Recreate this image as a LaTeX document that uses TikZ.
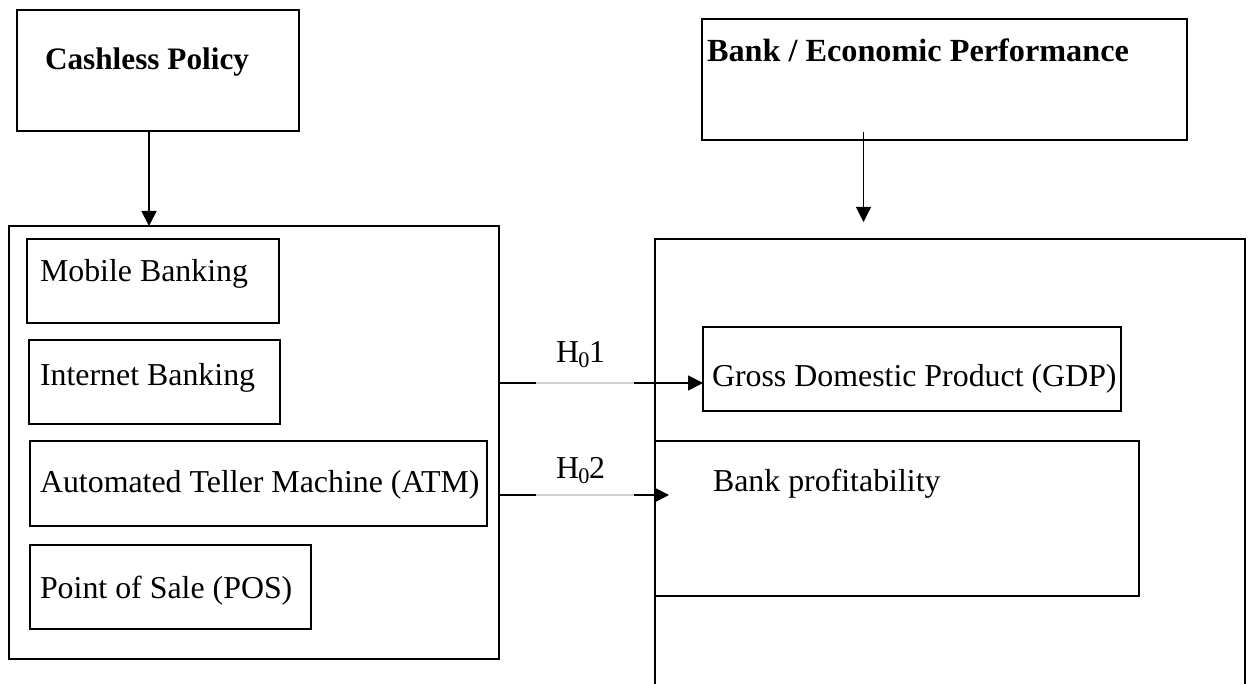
\documentclass[tikz,border=0pt]{standalone}
\usepackage{fontspec}
\setmainfont{Liberation Serif}
\usetikzlibrary{arrows.meta}

\tikzset{
  frame/.style 2 args={draw, line width=0.75pt, inner sep=0pt, outer sep=0pt,
    anchor=north west, minimum width=#1*0.4pt, minimum height=#2*0.4pt},
  label text/.style={anchor=base west, inner sep=0pt, outer sep=0pt,
    font=\fontsize{12.75}{15}\selectfont},
  title text/.style={anchor=base west, inner sep=0pt, outer sep=0pt,
    font=\fontsize{#1}{15}\selectfont\bfseries},
  conn/.style={line width=0.7pt},
  faint/.style={line width=0.45pt, draw=black!18},
  arrowed/.style={conn, -{Triangle[length=6pt, width=6pt]}},
}

\begin{document}
\begin{tikzpicture}[x=0.4pt, y=-0.4pt]
  \useasboundingbox (0,0) rectangle (1251,684);
  \clip (0,0) rectangle (1251,684);

  % independent variable
  \node[frame={282}{121}] (cp) at (17,10) {};
  \node[title text=12.5] (cpt) at (45,70) {Cashless Policy};

  \node[frame={490}{433}] (lb) at (9,226) {};
  \node[frame={252}{84}] (mb) at (27,239) {};
  \node[label text] (mbt) at (40,282) {Mobile Banking};
  \node[frame={251}{84}] (ib) at (29,340) {};
  \node[label text] (ibt) at (40,386) {Internet Banking};
  \node[frame={457}{85}] (atm) at (30,441) {};
  \node[label text] (atmt) at (40,493) {Automated Teller Machine (ATM)};
  \node[frame={281}{84}] (pos) at (30,545) {};
  \node[label text] (post) at (40,598) {Point of Sale (POS)};

  % dependent variables
  \node[frame={485}{121}] (be) at (702,19) {};
  \node[title text=12.9] (bet) at (707,62) {Bank / Economic Performance};

  \node[frame={590}{520}] (rb) at (655,239) {};
  \node[frame={418}{84}] (gdp) at (703,327) {};
  \node[label text] (gdpt) at (712,387) {Gross Domestic Product (GDP)};
  \node[frame={484}{155}] (bp) at (655,441) {};
  \node[label text] (bpt) at (713,492) {Bank profitability};

  % vertical arrows
  \coordinate (a1) at ([xshift=-3.6pt]cp.south);
  \draw[arrowed] (a1) -- (a1 |- lb.north);

  \coordinate (b1) at ([xshift=-32.4pt, yshift=3.2pt]be.south);
  \coordinate (b2) at ([yshift=6.8pt]rb.north);
  \draw[arrowed, line width=0.5pt] (b1) -- (b1 |- b2);

  % hypothesis H01
  \coordinate (g) at ([yshift=-5.6pt]gdp.west);
  \coordinate (h1s) at (lb.east |- g);
  \coordinate (h1a) at ([xshift=14.8pt]h1s);
  \coordinate (h1b) at ([xshift=54pt]h1s);
  \draw[conn] (h1s) -- (h1a);
  \draw[faint] (h1a) -- (h1b);
  \draw[arrowed] (h1b) -- (g);
  \node[label text] (h1) at (556,363) {H\kern-0.3pt\textsubscript{0}\kern-0.6pt1};

  % hypothesis H02
  \coordinate (p) at ([xshift=5.6pt, yshift=9.4pt]bp.west);
  \coordinate (h2s) at (lb.east |- p);
  \coordinate (h2a) at ([xshift=14.8pt]h2s);
  \coordinate (h2b) at ([xshift=54pt]h2s);
  \draw[conn] (h2s) -- (h2a);
  \draw[faint] (h2a) -- (h2b);
  \draw[arrowed] (h2b) -- (p);
  \node[label text] (h2) at (556,479) {H\kern-0.3pt\textsubscript{0}\kern-0.6pt2};
\end{tikzpicture}
\end{document}
